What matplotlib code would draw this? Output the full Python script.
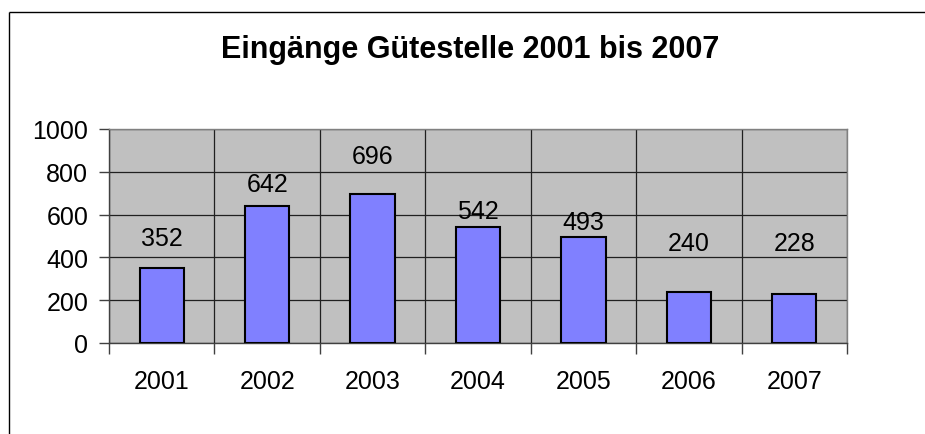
import numpy as np
import matplotlib.pyplot as plt
from matplotlib.lines import Line2D

# data
years = ['2001', '2002', '2003', '2004', '2005', '2006', '2007']
eingaenge = [352, 642, 696, 542, 493, 240, 228]
# where the value labels sit (data units), as in the original
label_y = [490, 745, 875, 615, 565, 465, 465]

plt.rcParams['font.family'] = ['Liberation Sans', 'DejaVu Sans']

fig = plt.figure(figsize=(9.25, 4.35), dpi=100)
ax = fig.add_axes([109 / 925, 1 - 344 / 435, 738 / 925, 214 / 435])

x = np.arange(len(years))
ax.bar(x, eingaenge, width=0.42, color='#8080FF', edgecolor='black', linewidth=1.5, zorder=3)
for xi, v, ly in zip(x, eingaenge, label_y):
    ax.text(xi, ly, str(v), ha='center', va='center', fontsize=18, zorder=4)

ax.set_facecolor('#C0C0C0')
ax.set_xlim(-0.5, len(years) - 0.5)
ax.set_ylim(0, 1000)
ax.set_yticks(range(0, 1001, 200))
ax.tick_params(axis='y', labelsize=18, length=7, width=1, color='#404040', pad=8)

# categories: labels centred, ticks on the boundaries
ax.set_xticks(x)
ax.set_xticklabels(years, fontsize=18)
ax.tick_params(axis='x', which='major', length=0, pad=19)
ax.set_xticks(np.arange(-0.5, len(years)), minor=True)
ax.tick_params(axis='x', which='minor', length=8, width=1, color='#404040')

ax.grid(axis='y', color='#202020', linewidth=0.9, zorder=1)
ax.grid(axis='x', which='minor', color='#202020', linewidth=0.9, zorder=1)
ax.set_axisbelow(True)
for s in ax.spines.values():
    s.set_color('#808080')
    s.set_linewidth(1)
ax.spines['left'].set_color('#404040')
ax.spines['bottom'].set_color('#404040')

fig.text(470 / 925, 1 - 50 / 435, 'Eingänge Gütestelle 2001 bis 2007',
         ha='center', va='center', fontsize=22, fontweight='bold')

# chart frame, only left and top edges are inside the picture
fx, fy = 8.5 / 925, 1 - 12.5 / 435
fig.add_artist(Line2D([fx, fx], [0.0, fy], transform=fig.transFigure,
                      color='black', linewidth=1, solid_capstyle='butt'))
fig.add_artist(Line2D([fx, 1.0], [fy, fy], transform=fig.transFigure,
                      color='black', linewidth=1, solid_capstyle='butt'))

fig.savefig('out.png', dpi=100)
